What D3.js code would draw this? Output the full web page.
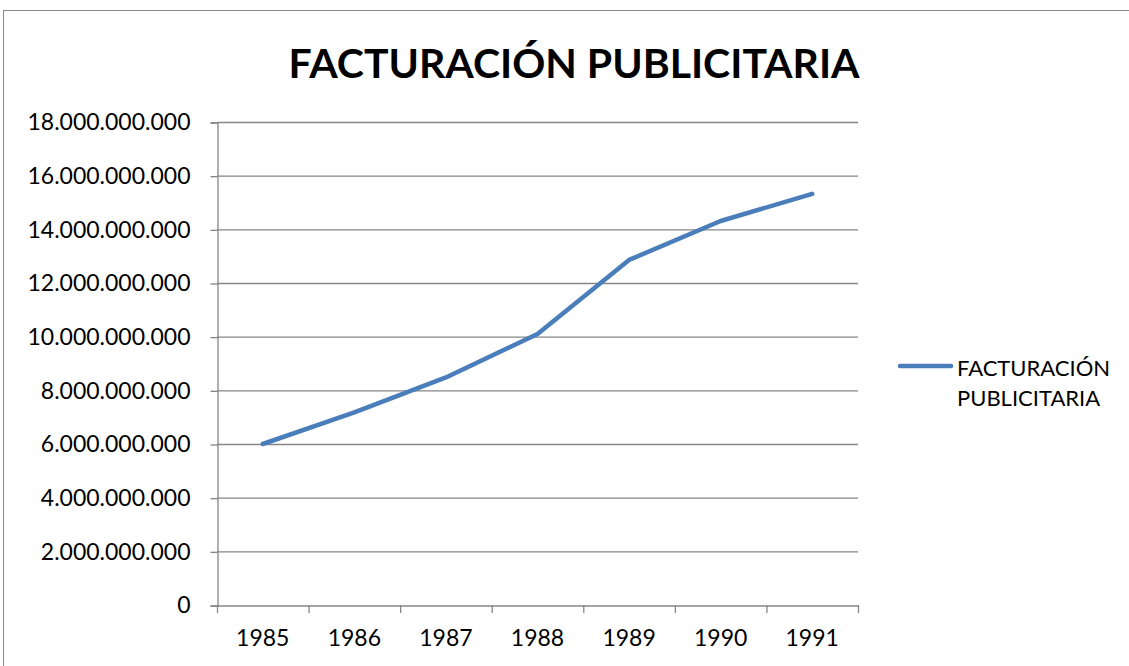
<!DOCTYPE html>
<html>
<head>
<meta charset="utf-8">
<script src="https://cdn.jsdelivr.net/npm/d3@7"></script>
<style>
  body { margin: 0; background: #fff; }
  text { font-family: Lato, "Open Sans", sans-serif; fill: #000; }
</style>
</head>
<body>
<script>
let years = ['1985', '1986', '1987', '1988', '1989', '1990', '1991']
let facturacion = [6.0e9, 7.18e9, 8.48e9, 10.1e9, 12.86e9, 14.31e9, 15.32e9]
let yTicks = d3.range(0, 18e9 + 1, 2e9)
let seriesName = 'FACTURACIÓN PUBLICITARIA'

let width = 1129
let height = 666

let x0 = 217, x1 = 858
let yTop = 122, yBottom = 605

let svg = d3.select('body').append('svg')
    .attr('width', width)
    .attr('height', height)

// chart frame
svg.append('rect')
    .attr('x', 3.5).attr('y', 10.5)
    .attr('width', 1140).attr('height', 700)
    .attr('fill', 'none')
    .attr('stroke', '#888')

let x = d3.scaleBand().domain(years).range([x0, x1])
let y = d3.scaleLinear().domain([0, 18e9]).range([yBottom, yTop])

let fmt = d => d3.format(',')(d).replace(/,/g, '.')

// gridlines
svg.append('g')
    .selectAll('line')
    .data(yTicks.filter(d => d > 0))
    .enter().append('line')
    .attr('x1', x0).attr('x2', x1)
    .attr('y1', d => y(d) + 0.5).attr('y2', d => y(d) + 0.5)
    .attr('stroke', '#868686')
    .attr('stroke-width', 1.3)

// y axis
let yAxis = svg.append('g')
    .attr('transform', 'translate(' + (x0 + 0.5) + ',0.5)')
    .call(d3.axisLeft(y).tickValues(yTicks).tickFormat(fmt).tickSize(7).tickPadding(20))
yAxis.select('.domain').attr('stroke', '#868686').attr('stroke-width', 1.3)
yAxis.selectAll('.tick line').attr('stroke', '#868686').attr('stroke-width', 1.3)
yAxis.selectAll('.tick text')
    .style('font-family', 'Lato, sans-serif')
    .attr('font-size', 23)
    .attr('fill', '#000')

// x axis
let xAxis = svg.append('g')
    .attr('transform', 'translate(0,' + (yBottom + 0.5) + ')')
    .call(d3.axisBottom(x).tickSize(0).tickPadding(24))
xAxis.select('.domain').attr('stroke', '#868686').attr('stroke-width', 1.3)
xAxis.selectAll('.tick text')
    .style('font-family', 'Lato, sans-serif')
    .attr('font-size', 23)
    .attr('fill', '#000')

// x ticks at band edges
svg.append('g')
    .selectAll('line')
    .data(years.map(d => x(d)).concat([x1]))
    .enter().append('line')
    .attr('x1', d => d + 0.5).attr('x2', d => d + 0.5)
    .attr('y1', yBottom).attr('y2', yBottom + 8)
    .attr('stroke', '#868686')
    .attr('stroke-width', 1.3)

// series line
let line = d3.line()
    .x((d, i) => x(years[i]) + x.bandwidth() / 2)
    .y(d => y(d))

svg.append('path')
    .datum(facturacion)
    .attr('d', line)
    .attr('fill', 'none')
    .attr('stroke', '#4a7ebb')
    .attr('stroke-width', 4.5)
    .attr('stroke-linecap', 'round')
    .attr('stroke-linejoin', 'round')

// title
svg.append('text')
    .attr('x', 574)
    .attr('y', 78)
    .attr('text-anchor', 'middle')
    .attr('font-size', 41)
    .attr('font-weight', 'bold')
    .text(seriesName)

// legend
let legend = svg.append('g')
legend.append('line')
    .attr('x1', 900).attr('x2', 951)
    .attr('y1', 366).attr('y2', 366)
    .attr('stroke', '#4a7ebb')
    .attr('stroke-width', 4.5)
    .attr('stroke-linecap', 'round')
legend.selectAll('text')
    .data(seriesName.split(' '))
    .enter().append('text')
    .attr('x', 957)
    .attr('y', (d, i) => 376 + i * 30)
    .attr('font-size', 22)
    .text(d => d)
</script>
</body>
</html>
